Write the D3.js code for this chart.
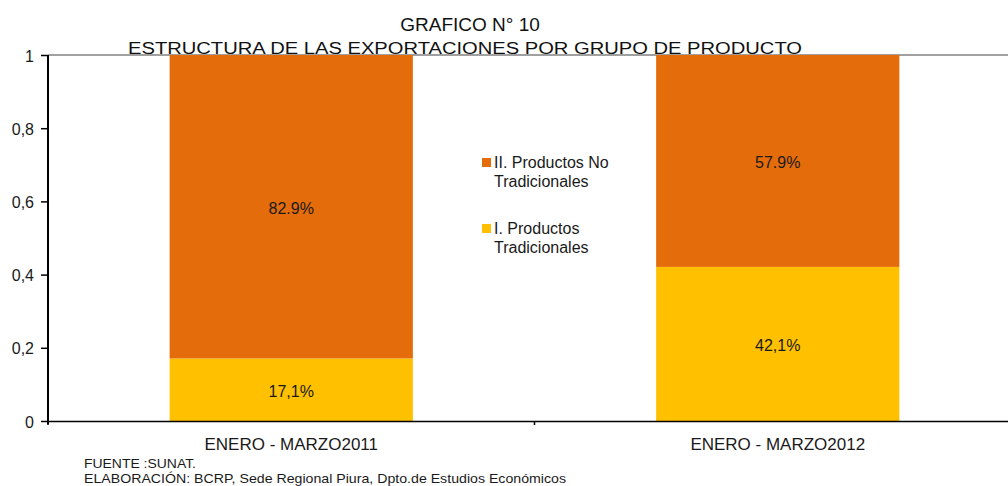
<!DOCTYPE html>
<html>
<head>
<meta charset="utf-8">
<script src="https://cdn.jsdelivr.net/npm/d3@7"></script>
<style>
  body { margin: 0; background: #fff; }
  svg { font-family: "Liberation Sans", Arial, sans-serif; }
</style>
</head>
<body>
<div id="chart"></div>
<script>
const categories = ["ENERO - MARZO2011", "ENERO - MARZO2012"];
const tradicionales = [0.171, 0.421];
const noTradicionales = [0.829, 0.579];
const tradLabels = ["17,1%", "42,1%"];
const noTradLabels = ["82.9%", "57.9%"];
const yTicks = [0, 0.2, 0.4, 0.6, 0.8, 1];
const seriesNames = [["II. Productos No", "Tradicionales"], ["I. Productos", "Tradicionales"]];

const svgWidth = 1008, svgHeight = 486;
const margin = { top: 55, right: -13, bottom: 65, left: 48 };
const width = svgWidth - margin.left - margin.right;
const height = svgHeight - margin.top - margin.bottom;

const colorNo = "#E46C0A";
const colorTrad = "#FFC000";
const fontFam = "Liberation Sans, Arial, sans-serif";

const locale = d3.formatLocale({ decimal: ",", thousands: ".", grouping: [3], currency: ["", ""] });
const fmt = locale.format("");

const svg = d3.select("#chart").append("svg")
    .attr("width", svgWidth)
    .attr("height", svgHeight);

const g = svg.append("g").attr("transform", `translate(${margin.left},${margin.top})`);

const x = d3.scaleBand().domain(categories).range([0, width]).paddingInner(0).paddingOuter(0);
const y = d3.scaleLinear().domain([0, 1]).range([height, 0]);

const data = categories.map((c, i) => ({ cat: c, trad: tradicionales[i], no: noTradicionales[i], tl: tradLabels[i], nl: noTradLabels[i] }));
const barW = x.bandwidth() * 0.5;

// top gridline
g.append("line")
    .attr("x1", 0).attr("x2", width)
    .attr("y1", y(1)).attr("y2", y(1))
    .attr("stroke", "#808080").attr("stroke-width", 1.5);

// bars
g.selectAll(".trad").data(data).enter().append("rect")
    .attr("x", d => x(d.cat) + (x.bandwidth() - barW) / 2)
    .attr("y", d => y(d.trad))
    .attr("width", barW)
    .attr("height", d => y(0) - y(d.trad))
    .attr("fill", colorTrad);

g.selectAll(".no").data(data).enter().append("rect")
    .attr("x", d => x(d.cat) + (x.bandwidth() - barW) / 2)
    .attr("y", d => y(d.trad + d.no))
    .attr("width", barW)
    .attr("height", d => y(d.trad) - y(d.trad + d.no))
    .attr("fill", colorNo);

// value labels
g.selectAll(".tl").data(data).enter().append("text")
    .attr("x", d => x(d.cat) + x.bandwidth() / 2)
    .attr("y", d => y(d.trad / 2) + 7)
    .attr("text-anchor", "middle")
    .attr("font-size", "16px").attr("fill", "#1a1a1a")
    .text(d => d.tl);

g.selectAll(".nl").data(data).enter().append("text")
    .attr("x", d => x(d.cat) + x.bandwidth() / 2)
    .attr("y", d => y(d.trad + d.no / 2) + 7)
    .attr("text-anchor", "middle")
    .attr("font-size", "16px").attr("fill", "#1a1a1a")
    .text(d => d.nl);

// y axis
const yAxis = g.append("g")
    .call(d3.axisLeft(y).tickValues(yTicks).tickFormat(fmt).tickSize(7).tickPadding(7));
yAxis.select(".domain").attr("stroke", "#000").attr("stroke-width", 2).attr("d", `M0,${height + 3}V${y(1)}`);
yAxis.selectAll(".tick line").attr("stroke", "#000").attr("stroke-width", 1.5);
yAxis.selectAll(".tick text").attr("font-size", "16px").attr("fill", "#1a1a1a").attr("font-family", fontFam).attr("dy", "0.38em");

// x axis
const xAxis = g.append("g")
    .attr("transform", `translate(0,${height})`)
    .call(d3.axisBottom(x).tickSize(0).tickPadding(17));
xAxis.select(".domain").attr("stroke", "#000").attr("stroke-width", 1.5);
xAxis.selectAll(".tick text").attr("font-size", "17px").attr("fill", "#1a1a1a").attr("font-family", fontFam);
// boundary ticks between categories
g.selectAll(".btick").data([0, x.bandwidth()]).enter().append("line")
    .attr("x1", d => d).attr("x2", d => d)
    .attr("y1", height).attr("y2", height + 4)
    .attr("stroke", "#000").attr("stroke-width", 1.5);

// legend
const legend = svg.append("g").attr("transform", "translate(482,0)");
[colorNo, colorTrad].forEach((c, i) => {
    const ly = [158, 224][i];
    legend.append("rect").attr("x", 0).attr("y", ly).attr("width", 9).attr("height", 9).attr("fill", c);
    seriesNames[i].forEach((t, j) => {
        legend.append("text").attr("x", 12).attr("y", ly + 10 + j * 19)
            .attr("font-size", "16px").attr("fill", "#1a1a1a").text(t);
    });
});

// titles
svg.append("text").attr("x", 470).attr("y", 31).attr("text-anchor", "middle")
    .attr("font-size", "19px").attr("fill", "#111").text("GRAFICO N° 10");
svg.append("text").attr("x", 128).attr("y", 54)
    .attr("font-size", "16px").attr("fill", "#111")
    .attr("textLength", 674).attr("lengthAdjust", "spacingAndGlyphs")
    .text("ESTRUCTURA DE LAS EXPORTACIONES POR GRUPO DE PRODUCTO");

// footer
svg.append("text").attr("x", 84).attr("y", 468)
    .attr("font-size", "13px").attr("fill", "#1a1a1a")
    .attr("textLength", 112).attr("lengthAdjust", "spacingAndGlyphs")
    .text("FUENTE :SUNAT.");
svg.append("text").attr("x", 84).attr("y", 483)
    .attr("font-size", "13px").attr("fill", "#1a1a1a")
    .attr("textLength", 482).attr("lengthAdjust", "spacingAndGlyphs")
    .text("ELABORACIÓN: BCRP, Sede Regional Piura, Dpto.de Estudios Económicos");
</script>
</body>
</html>
